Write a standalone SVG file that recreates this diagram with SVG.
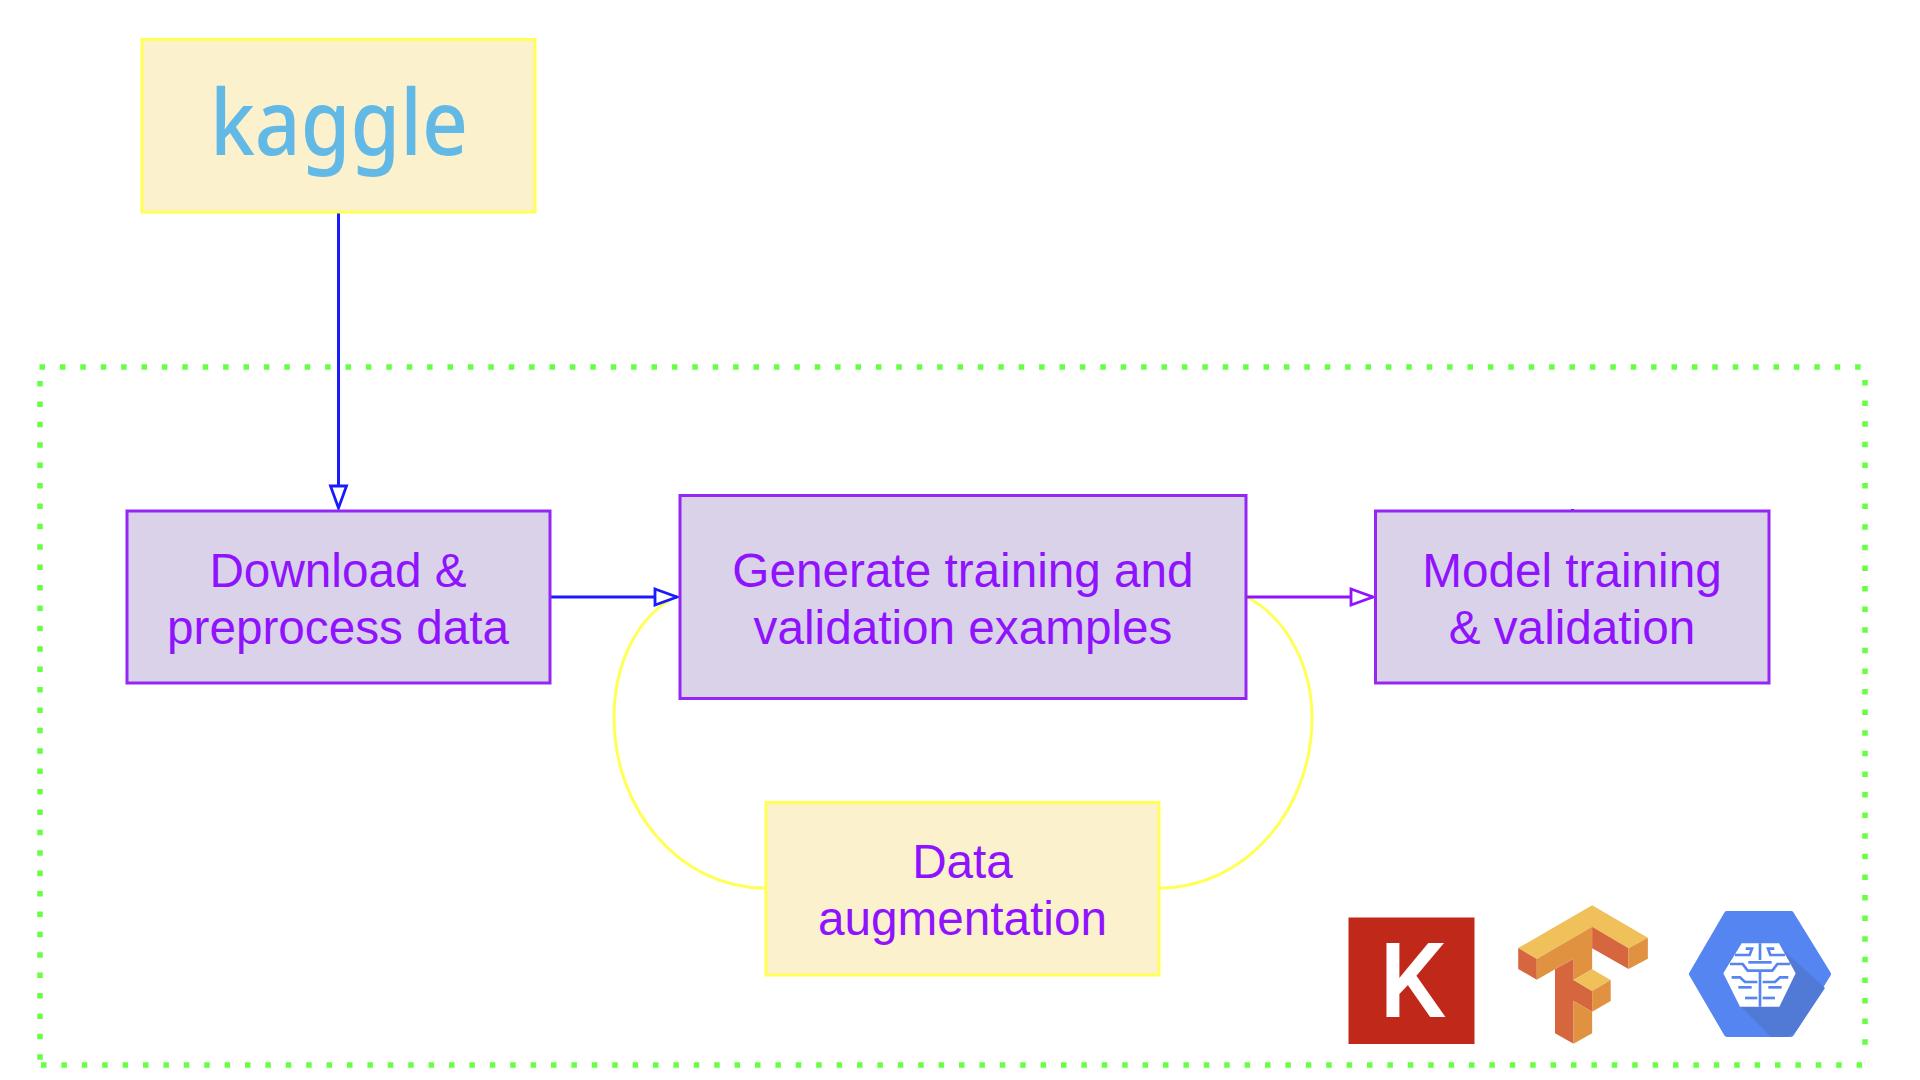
<svg xmlns="http://www.w3.org/2000/svg" width="1920" height="1080" viewBox="0 0 1920 1080">
<style>
.y{fill:#fcf1cd;stroke:#ffff55;stroke-width:3}
.p{fill:#d9d2e8;stroke:#9527f5;stroke-width:3}
.t{font-family:"Liberation Sans",Arial,sans-serif;font-size:47.7px;fill:#9013fe;text-anchor:middle}
.c{fill:none;stroke-width:3}
.d{fill:none;stroke:#66ff44;stroke-width:5.5}
</style>
<defs>
<marker id="ab" markerUnits="userSpaceOnUse" markerWidth="26" markerHeight="22" viewBox="0 0 26 22" refX="24" refY="11" orient="auto"><path d="M2 3L24 11L2 19Z" fill="#fff" stroke="#1a1aff" stroke-width="2.800"/></marker>
<marker id="ap" markerUnits="userSpaceOnUse" markerWidth="26" markerHeight="22" viewBox="0 0 26 22" refX="24" refY="11" orient="auto"><path d="M2 3L24 11L2 19Z" fill="#fff" stroke="#9013fe" stroke-width="2.800"/></marker>
<clipPath id="hex"><path d="M1689 974L1725 911H1793L1831 974L1793 1037H1725Z"/></clipPath>
</defs>
<rect width="1920" height="1080" fill="#fff"/>
<g id="boundary">
<path class="d" d="M39.500 367H1866" stroke-dasharray="5.5 14.9"/>
<path class="d" d="M40 381V1065" stroke-dasharray="5.5 14.9"/>
<path class="d" d="M1865 380V1055" stroke-dasharray="5.5 15.100"/>
<path class="d" d="M41 1065H1866" stroke-dasharray="5.5 14.9"/>
</g>
<g id="connectors">
<path class="c" stroke="#ffff55" d="M765 888C680 888 614 810 614 718C614 660 640 615 675 597"/>
<path class="c" stroke="#ffff55" d="M1160 888C1245 888 1312 810 1312 718C1312 670 1290 620 1247 597"/>
<path class="c" stroke="#1a1aff" d="M338.500 212V508" marker-end="url(#ab)"/>
<path class="c" stroke="#1a1aff" d="M551 597H677" marker-end="url(#ab)"/>
<path class="c" stroke="#9013fe" d="M1246 597H1373" marker-end="url(#ap)"/>
<path class="c" stroke="#1a1aff" d="M1572.500 509V511.500"/>
</g>
<g id="kaggle"><rect class="y" x="142" y="39.500" width="393" height="172.500"/>
<text x="210" y="155" font-family="'Noto Sans',sans-serif" font-weight="500" font-size="90" fill="#63b9e5" textLength="258" lengthAdjust="spacingAndGlyphs">kaggle</text></g>
<g id="download"><rect class="p" x="127" y="511" width="423" height="172"/>
<text class="t" x="338" y="587">Download &amp;</text><text class="t" x="338" y="643.500">preprocess data</text></g>
<g id="generate"><rect class="p" x="680" y="495.500" width="566" height="203"/>
<text class="t" x="963" y="587">Generate training and</text><text class="t" x="963" y="643.500">validation examples</text></g>
<g id="model"><rect class="p" x="1375.500" y="511" width="393.500" height="172"/>
<text class="t" x="1572" y="587">Model training</text><text class="t" x="1572" y="643.500">&amp; validation</text></g>
<g id="augmentation"><rect class="y" x="766" y="802.500" width="393" height="172.500"/>
<text class="t" x="962.500" y="878">Data</text><text class="t" x="962.500" y="934.500">augmentation</text></g>
<g id="keras"><rect x="1348.500" y="917.500" width="126" height="126.500" fill="#c0281a"/>
<text x="1379" y="1017" font-family="Roboto,sans-serif" font-weight="500" font-size="104" fill="#fff" textLength="66" lengthAdjust="spacingAndGlyphs">K</text></g>
<g id="tensorflow" transform="translate(1320 880) scale(.35714 .33333)">
<path fill="#f0c05a" d="M762 76L918 173L864 205L762 140L607 237L555 204Z"/>
<path fill="#d6663d" d="M555 204L607 237V299L555 267Z"/>
<path fill="#e09240" d="M607 237L762 140V268L710 300V237L658 268L607 299Z"/>
<path fill="#d6663d" d="M762 140L864 205V267L762 205Z"/>
<path fill="#e09240" d="M864 205L918 173V236L864 267Z"/>
<path fill="#d6663d" d="M658 268L710 237V300L762 333V395L710 363V491L658 460Z"/>
<path fill="#f0c05a" d="M710 300L762 268L814 300L762 333Z"/>
<path fill="#e09240" d="M762 333L814 300V363L762 395Z"/>
<path fill="#e09240" d="M710 363L762 395V460L710 491Z"/>
</g>
<g id="ml-engine">
<path fill="#5585f0" stroke="#5585f0" stroke-width="6" stroke-linejoin="round" d="M1692 974L1727 914H1791L1828 974L1791 1034H1727Z"/>
<path fill="#507ad6" d="M1780 947L1825 988L1797 1030Q1792 1037 1783 1037H1771L1741 1007Z"/>
<g transform="translate(1680 930) scale(.33333)">
<path fill="#fff" d="M185 40H297L347 130L298 230H180L130 130Z"/>
<g fill="none" stroke="#5585f0" stroke-width="8">
<path d="M240 40V90M240 125V230"/>
<path d="M197 56H216L209 75H165"/>
<path d="M283 56H264L271 75H315"/>
<path d="M205 97H275"/>
<path d="M150 102H188L203 122H240H277L292 102H330"/>
<path d="M155 142H180L195 156H232"/>
<path d="M325 142H300L285 156H248"/>
<path d="M175 172H215"/>
<path d="M305 172H265"/>
<path d="M195 204H232"/>
<path d="M285 204H248"/>
</g>
</g>
</g>
</svg>
